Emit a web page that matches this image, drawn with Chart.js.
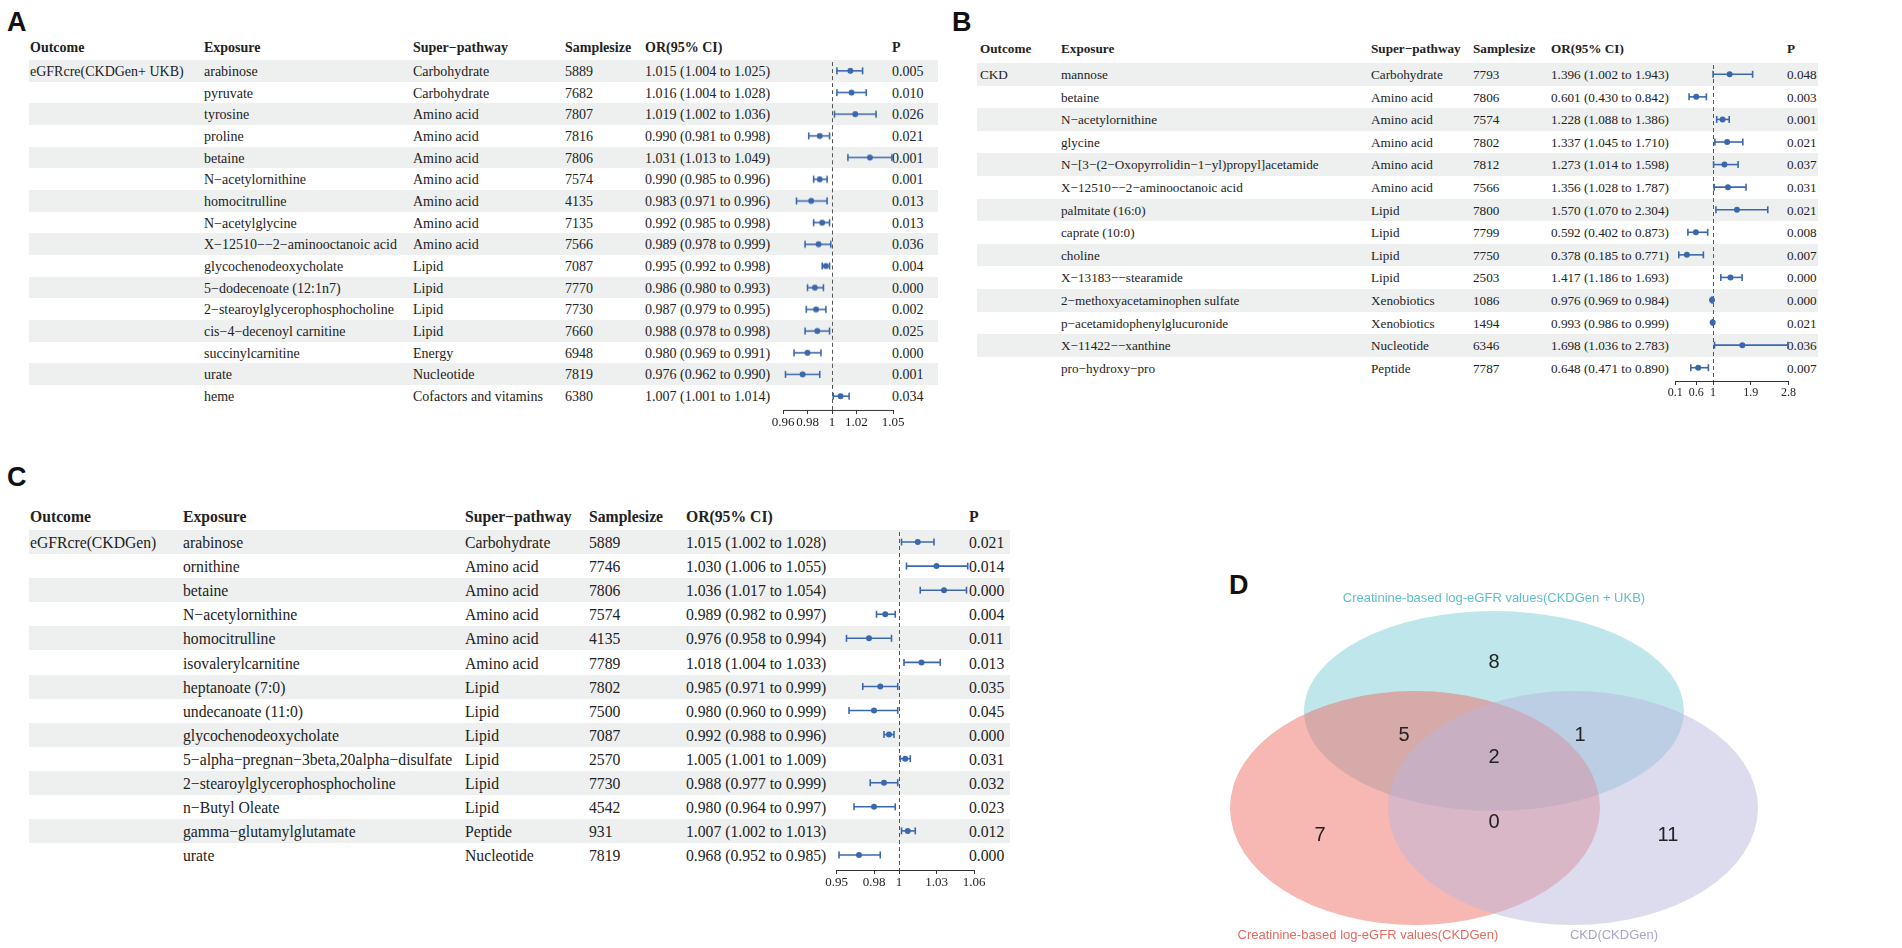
<!doctype html>
<html lang="en">
<head>
<meta charset="utf-8">
<title>MR forest plots and Venn</title>
<style>
  html,body{margin:0;padding:0;width:1902px;height:948px;overflow:hidden;background:#fff;}
  .letter{position:absolute;font-family:"Liberation Sans",Arial,sans-serif;font-weight:bold;font-size:27px;line-height:27px;color:#111;}
  .row{position:absolute;}
  .t{position:absolute;top:0;font-family:"Liberation Serif","Times New Roman",serif;color:#222;white-space:nowrap;}
  .hd{font-weight:bold;}
  canvas{position:absolute;}
  .vt{position:absolute;font-family:"Liberation Sans",Arial,sans-serif;font-size:13px;line-height:16px;white-space:nowrap;transform:translateX(-50%);}
</style>
</head>
<body>
<div id="root"></div>

<script src="https://cdn.jsdelivr.net/npm/chart.js"></script>
<script>
// ---------- panel A : eGFRcre(CKDGen+ UKB)
var aOutcome = 'eGFRcre(CKDGen+ UKB)';
var aExposure = ['arabinose','pyruvate','tyrosine','proline','betaine','N−acetylornithine','homocitrulline','N−acetylglycine',
  'X−12510−−2−aminooctanoic acid','glycochenodeoxycholate','5−dodecenoate (12:1n7)','2−stearoylglycerophosphocholine',
  'cis−4−decenoyl carnitine','succinylcarnitine','urate','heme'];
var aPathway = ['Carbohydrate','Carbohydrate','Amino acid','Amino acid','Amino acid','Amino acid','Amino acid','Amino acid',
  'Amino acid','Lipid','Lipid','Lipid','Lipid','Energy','Nucleotide','Cofactors and vitamins'];
var aSample = [5889,7682,7807,7816,7806,7574,4135,7135,7566,7087,7770,7730,7660,6948,7819,6380];
var aOR   = [1.015,1.016,1.019,0.990,1.031,0.990,0.983,0.992,0.989,0.995,0.986,0.987,0.988,0.980,0.976,1.007];
var aLow  = [1.004,1.004,1.002,0.981,1.013,0.985,0.971,0.985,0.978,0.992,0.980,0.979,0.978,0.969,0.962,1.001];
var aHigh = [1.025,1.028,1.036,0.998,1.049,0.996,0.996,0.998,0.999,0.998,0.993,0.995,0.998,0.991,0.990,1.014];
var aP = ['0.005','0.010','0.026','0.021','0.001','0.001','0.013','0.013','0.036','0.004','0.000','0.002','0.025','0.000','0.001','0.034'];
var aTicks = [0.96,0.98,1,1.02,1.05];

// ---------- panel B : CKD
var bOutcome = 'CKD';
var bExposure = ['mannose','betaine','N−acetylornithine','glycine','N−[3−(2−Oxopyrrolidin−1−yl)propyl]acetamide',
  'X−12510−−2−aminooctanoic acid','palmitate (16:0)','caprate (10:0)','choline','X−13183−−stearamide',
  '2−methoxyacetaminophen sulfate','p−acetamidophenylglucuronide','X−11422−−xanthine','pro−hydroxy−pro'];
var bPathway = ['Carbohydrate','Amino acid','Amino acid','Amino acid','Amino acid','Amino acid','Lipid','Lipid','Lipid','Lipid',
  'Xenobiotics','Xenobiotics','Nucleotide','Peptide'];
var bSample = [7793,7806,7574,7802,7812,7566,7800,7799,7750,2503,1086,1494,6346,7787];
var bOR   = [1.396,0.601,1.228,1.337,1.273,1.356,1.570,0.592,0.378,1.417,0.976,0.993,1.698,0.648];
var bLow  = [1.002,0.430,1.088,1.045,1.014,1.028,1.070,0.402,0.185,1.186,0.969,0.986,1.036,0.471];
var bHigh = [1.943,0.842,1.386,1.710,1.598,1.787,2.304,0.873,0.771,1.693,0.984,0.999,2.783,0.890];
var bP = ['0.048','0.003','0.001','0.021','0.037','0.031','0.021','0.008','0.007','0.000','0.000','0.021','0.036','0.007'];
var bTicks = [0.1,0.6,1,1.9,2.8];

// ---------- panel C : eGFRcre(CKDGen)
var cOutcome = 'eGFRcre(CKDGen)';
var cExposure = ['arabinose','ornithine','betaine','N−acetylornithine','homocitrulline','isovalerylcarnitine','heptanoate (7:0)',
  'undecanoate (11:0)','glycochenodeoxycholate','5−alpha−pregnan−3beta,20alpha−disulfate','2−stearoylglycerophosphocholine',
  'n−Butyl Oleate','gamma−glutamylglutamate','urate'];
var cPathway = ['Carbohydrate','Amino acid','Amino acid','Amino acid','Amino acid','Amino acid','Lipid','Lipid','Lipid','Lipid',
  'Lipid','Lipid','Peptide','Nucleotide'];
var cSample = [5889,7746,7806,7574,4135,7789,7802,7500,7087,2570,7730,4542,931,7819];
var cOR   = [1.015,1.030,1.036,0.989,0.976,1.018,0.985,0.980,0.992,1.005,0.988,0.980,1.007,0.968];
var cLow  = [1.002,1.006,1.017,0.982,0.958,1.004,0.971,0.960,0.988,1.001,0.977,0.964,1.002,0.952];
var cHigh = [1.028,1.055,1.054,0.997,0.994,1.033,0.999,0.999,0.996,1.009,0.999,0.997,1.013,0.985];
var cP = ['0.021','0.014','0.000','0.004','0.011','0.013','0.035','0.045','0.000','0.031','0.032','0.023','0.012','0.000'];
var cTicks = [0.95,0.98,1,1.03,1.06];

// ---------- panel D : Venn counts
var vennSets = ['Creatinine-based log-eGFR values(CKDGen + UKB)','Creatinine-based log-eGFR values(CKDGen)','CKD(CKDGen)'];
var vennCounts = [8,7,11,5,1,0,2]; // onlyTop, onlyLeft, onlyRight, top&left, top&right, left&right, all

var blue = '#3b68ad';
var band = '#eef0f0';
var root = document.getElementById('root');

function el(tag, cls, css, txt) {
  var e = document.createElement(tag);
  if (cls) e.className = cls;
  for (var k in css) e.style[k] = css[k];
  if (txt !== undefined) e.textContent = txt;
  root.appendChild(e);
  return e;
}

function drawPanel(L, d) {
  el('div', 'letter', {left: L.letter[0] + 'px', top: L.letter[1] + 'px'}, L.name);
  var cols = [L.cOut, L.cExp, L.cPath, L.cSam, L.cOR, L.cP];
  var heads = ['Outcome','Exposure','Super−pathway','Samplesize','OR(95% CI)','P'];
  var h = el('div', 'row', {left: L.bandL + 'px', top: (L.headY - 10) + 'px', width: (L.bandR - L.bandL) + 'px', height: '20px'});
  heads.forEach(function (s, j) {
    var t = document.createElement('span');
    t.className = 't hd';
    t.style.left = (cols[j] - L.bandL) + 'px';
    t.style.fontSize = L.fs + 'px';
    t.style.lineHeight = '20px';
    t.textContent = s;
    h.appendChild(t);
  });
  var n = d.exp.length;
  for (var i = 0; i < n; i++) {
    var r = el('div', 'row', {left: L.bandL + 'px', top: (L.rowTop + i * L.rowH) + 'px', width: (L.bandR - L.bandL) + 'px',
      height: L.rowH + 'px', background: i % 2 === 0 ? band : 'transparent'});
    var vals = [i === 0 ? d.out : '', d.exp[i], d.path[i], String(d.sam[i]),
      d.or[i].toFixed(3) + ' (' + d.lo[i].toFixed(3) + ' to ' + d.hi[i].toFixed(3) + ')', d.p[i]];
    vals.forEach(function (s, j) {
      var t = document.createElement('span');
      t.className = 't';
      t.style.left = (cols[j] - L.bandL) + 'px';
      t.style.fontSize = L.fs + 'px';
      t.style.lineHeight = L.rowH + 'px';
      t.style.top = '1px';
      t.textContent = s;
      r.appendChild(t);
    });
  }

  // forest plot
  var axisH = 24;
  var w = L.fR - L.fL;
  var hh = n * L.rowH + L.gap + axisH;
  var cv = el('canvas', '', {left: L.fL + 'px', top: L.rowTop + 'px'});
  cv.width = w; cv.height = hh;
  cv.style.width = w + 'px'; cv.style.height = hh + 'px';
  var xmin = 1 - (L.one - L.fL) / L.ppu;
  var xmax = 1 + (L.fR - L.one) / L.ppu;

  var sets = d.lo.map(function (lo, i) {
    return {type: 'line', data: [{x: lo, y: i}, {x: d.hi[i], y: i}], borderColor: blue, borderWidth: 1.6, clip: false,
      pointStyle: 'line', pointRotation: 90, pointRadius: 3.5, pointBorderWidth: 1.6, pointBorderColor: blue, pointBackgroundColor: blue};
  });
  sets.push({type: 'scatter', data: d.or.map(function (v, i) { return {x: v, y: i}; }), clip: false,
    backgroundColor: blue, borderColor: blue, pointRadius: 3, pointBorderWidth: 0});

  var refLine = {
    id: 'ref',
    beforeDatasetsDraw: function (ch) {
      var c = ch.ctx, xs = ch.scales.x, a = ch.chartArea;
      var x1 = Math.round(xs.getPixelForValue(1)) + 0.5;
      c.save();
      c.strokeStyle = '#555'; c.lineWidth = 1; c.setLineDash([4, 3]);
      c.beginPath(); c.moveTo(x1, a.top + 2); c.lineTo(x1, a.bottom); c.stroke();
      c.setLineDash([]);
      c.strokeStyle = '#333';
      var y0 = Math.round(a.bottom) + 0.5;
      c.beginPath();
      c.moveTo(xs.getPixelForValue(d.ticks[0]), y0);
      c.lineTo(xs.getPixelForValue(d.ticks[d.ticks.length - 1]), y0);
      c.stroke();
      c.restore();
    }
  };

  new Chart(cv, {
    type: 'scatter',
    data: {datasets: sets},
    options: {
      responsive: false, animation: false, devicePixelRatio: 1,
      layout: {padding: 0, autoPadding: false},
      plugins: {legend: {display: false}, tooltip: {enabled: false}},
      scales: {
        x: {type: 'linear', min: xmin, max: xmax,
          afterBuildTicks: function (s) { s.ticks = d.ticks.map(function (v) { return {value: v}; }); },
          afterFit: function (s) { s.height = axisH; },
          border: {display: false},
          grid: {drawOnChartArea: false, drawTicks: true, tickLength: 4, color: '#333', lineWidth: 1},
          ticks: {autoSkip: false, maxRotation: 0, minRotation: 0, padding: 1, color: '#222',
            font: {family: 'Liberation Serif', size: L.tfs}, callback: function (v) { return String(v); }}
        },
        y: {type: 'linear', display: false, reverse: true, min: -0.5, max: n - 0.5 + L.gap / L.rowH}
      }
    },
    plugins: [refLine]
  });
}

drawPanel({name: 'A', letter: [7, 9], headY: 48, rowTop: 60, rowH: 21.67, fs: 14, tfs: 13, gap: 3,
  bandL: 29, bandR: 938, cOut: 30, cExp: 204, cPath: 413, cSam: 565, cOR: 645, cP: 892,
  fL: 765, fR: 935, one: 832, ppu: 1224},
  {out: aOutcome, exp: aExposure, path: aPathway, sam: aSample, or: aOR, lo: aLow, hi: aHigh, p: aP, ticks: aTicks});

drawPanel({name: 'B', letter: [952, 9], headY: 49, rowTop: 63, rowH: 22.6, fs: 13.2, tfs: 12, gap: 2,
  bandL: 977, bandR: 1818, cOut: 980, cExp: 1061, cPath: 1371, cSam: 1473, cOR: 1551, cP: 1787,
  fL: 1665, fR: 1830, one: 1713, ppu: 42},
  {out: bOutcome, exp: bExposure, path: bPathway, sam: bSample, or: bOR, lo: bLow, hi: bHigh, p: bP, ticks: bTicks});

drawPanel({name: 'C', letter: [7, 464], headY: 517, rowTop: 530, rowH: 24.1, fs: 15.7, tfs: 13, gap: 3,
  bandL: 29, bandR: 1010, cOut: 30, cExp: 183, cPath: 465, cSam: 589, cOR: 686, cP: 969,
  fL: 815, fR: 1000, one: 899, ppu: 1250},
  {out: cOutcome, exp: cExposure, path: cPathway, sam: cSample, or: cOR, lo: cLow, hi: cHigh, p: cP, ticks: cTicks});

// ---------- Venn (panel D), canvas scale = page pixels
el('div', 'letter', {left: '1229px', top: '572px'}, 'D');
var vL = 1040, vT = 560, vW = 862, vH = 388;
var vcv = el('canvas', '', {left: vL + 'px', top: vT + 'px'});
vcv.width = vW; vcv.height = vH; vcv.style.width = vW + 'px'; vcv.style.height = vH + 'px';

// the panel is stretched sideways in the figure, so the sets are ellipses
var shapes = [
  {x: 1494, y: 711, rx: 190, ry: 100, fill: 'rgba(125,206,216,0.5)'},
  {x: 1415, y: 808, rx: 185, ry: 117, fill: 'rgba(240,112,102,0.5)'},
  {x: 1573, y: 808, rx: 185, ry: 117, fill: 'rgba(188,183,222,0.5)'}
];
function ellipseSprite(o) {
  var s = document.createElement('canvas');
  s.width = Math.ceil(o.rx * 2); s.height = Math.ceil(o.ry * 2);
  var c = s.getContext('2d');
  c.fillStyle = o.fill;
  c.beginPath(); c.ellipse(o.rx, o.ry, o.rx, o.ry, 0, 0, Math.PI * 2); c.fill();
  return s;
}
var countPos = [[1494, 662], [1320, 835], [1668, 835], [1404, 735], [1580, 735], [1494, 822], [1494, 757]];

var vennText = {
  id: 'vennText',
  afterDatasetsDraw: function (ch) {
    var c = ch.ctx, xs = ch.scales.x, ys = ch.scales.y;
    c.save();
    c.fillStyle = '#222'; c.font = '20px "Liberation Sans", Arial, sans-serif';
    c.textAlign = 'center'; c.textBaseline = 'middle';
    vennCounts.forEach(function (v, i) {
      c.fillText(String(v), xs.getPixelForValue(countPos[i][0]), ys.getPixelForValue(countPos[i][1]));
    });
    c.restore();
  }
};

new Chart(vcv, {
  type: 'scatter',
  data: {datasets: [{
    data: shapes.map(function (o) { return {x: o.x, y: o.y}; }),
    pointStyle: shapes.map(ellipseSprite),
    borderWidth: 0, clip: false
  }]},
  options: {
    responsive: false, animation: false, devicePixelRatio: 1,
    layout: {padding: 0, autoPadding: false},
    plugins: {legend: {display: false}, tooltip: {enabled: false}},
    scales: {
      x: {type: 'linear', display: false, min: vL, max: vL + vW},
      y: {type: 'linear', display: false, reverse: true, min: vT, max: vT + vH}
    }
  },
  plugins: [vennText]
});

el('div', 'vt', {left: '1494px', top: '590px', color: '#5fbfcb'}, vennSets[0]);
el('div', 'vt', {left: '1368px', top: '927px', color: '#e36a60'}, vennSets[1]);
el('div', 'vt', {left: '1614px', top: '927px', color: '#aaa4c8'}, vennSets[2]);
</script>
</body>
</html>
